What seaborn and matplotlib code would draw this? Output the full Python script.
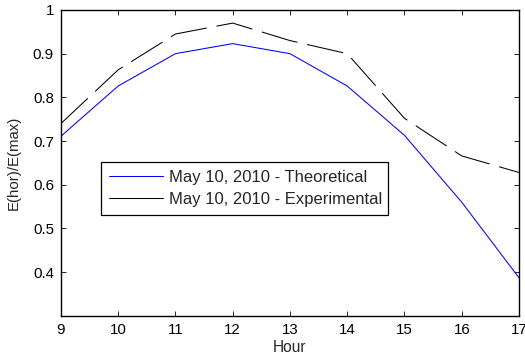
import matplotlib
matplotlib.use("Agg")
import matplotlib.pyplot as plt
import seaborn as sns
import pandas as pd

hours = [9, 10, 11, 12, 13, 14, 15, 16, 17]
theoretical = [0.711, 0.826, 0.900, 0.923, 0.900, 0.826, 0.713, 0.560, 0.387]
experimental = [0.740, 0.863, 0.945, 0.970, 0.930, 0.900, 0.752, 0.666, 0.628]
labels = ["May 10, 2010 - Theoretical", "May 10, 2010 - Experimental"]
yticks = [0.4, 0.5, 0.6, 0.7, 0.8, 0.9, 1.0]

df = pd.DataFrame({
    "Hour": hours * 2,
    "val": theoretical + experimental,
    "series": [labels[0]] * len(hours) + [labels[1]] * len(hours),
})

sns.set_style("white")
plt.rcParams["font.family"] = ["Liberation Sans", "DejaVu Sans"]

FS = 10.8

fig = plt.figure(figsize=(5.25, 3.63), dpi=100)
ax = fig.add_axes([0.116, 0.130, 0.8726, 0.8425])

sns.lineplot(data=df[df.series == labels[0]], x="Hour", y="val", ax=ax,
             color="#0000ff", lw=0.75, label=labels[0])
sns.lineplot(data=df[df.series == labels[1]], x="Hour", y="val", ax=ax,
             color="black", lw=0.75, label=labels[1])
ax.get_lines()[1].set_dashes((35.5, 9.6))

ax.set_xlim(9, 17)
ax.set_ylim(0.3, 1.0)
ax.set_xticks(hours)
ax.set_yticks(yticks)
ax.set_yticklabels([f"{v:g}" for v in yticks])
ax.set_xlabel("Hour", fontsize=11.2, labelpad=2)
ax.set_ylabel("E(hor)/E(max)", fontsize=FS, labelpad=9)
ax.tick_params(direction="in", length=3.5, width=0.6, labelsize=FS, pad=5,
               top=True, right=True, bottom=True, left=True, color="black",
               labelcolor="black")
for s in ax.spines.values():
    s.set_color("black")
    s.set_linewidth(1.0)

leg = ax.legend(loc="upper left", bbox_to_anchor=(0.087, 0.503, 0.627, 0.0),
                mode="expand", fontsize=12, frameon=True, fancybox=False,
                edgecolor="black", handlelength=3.25, handletextpad=0.36,
                borderaxespad=0, borderpad=0.49, labelspacing=0.4)
leg.get_frame().set_linewidth(0.9)
leg.get_frame().set_alpha(1)
for ln in leg.get_lines():
    ln.set_linestyle("-")

fig.savefig("out.png", dpi=100)
